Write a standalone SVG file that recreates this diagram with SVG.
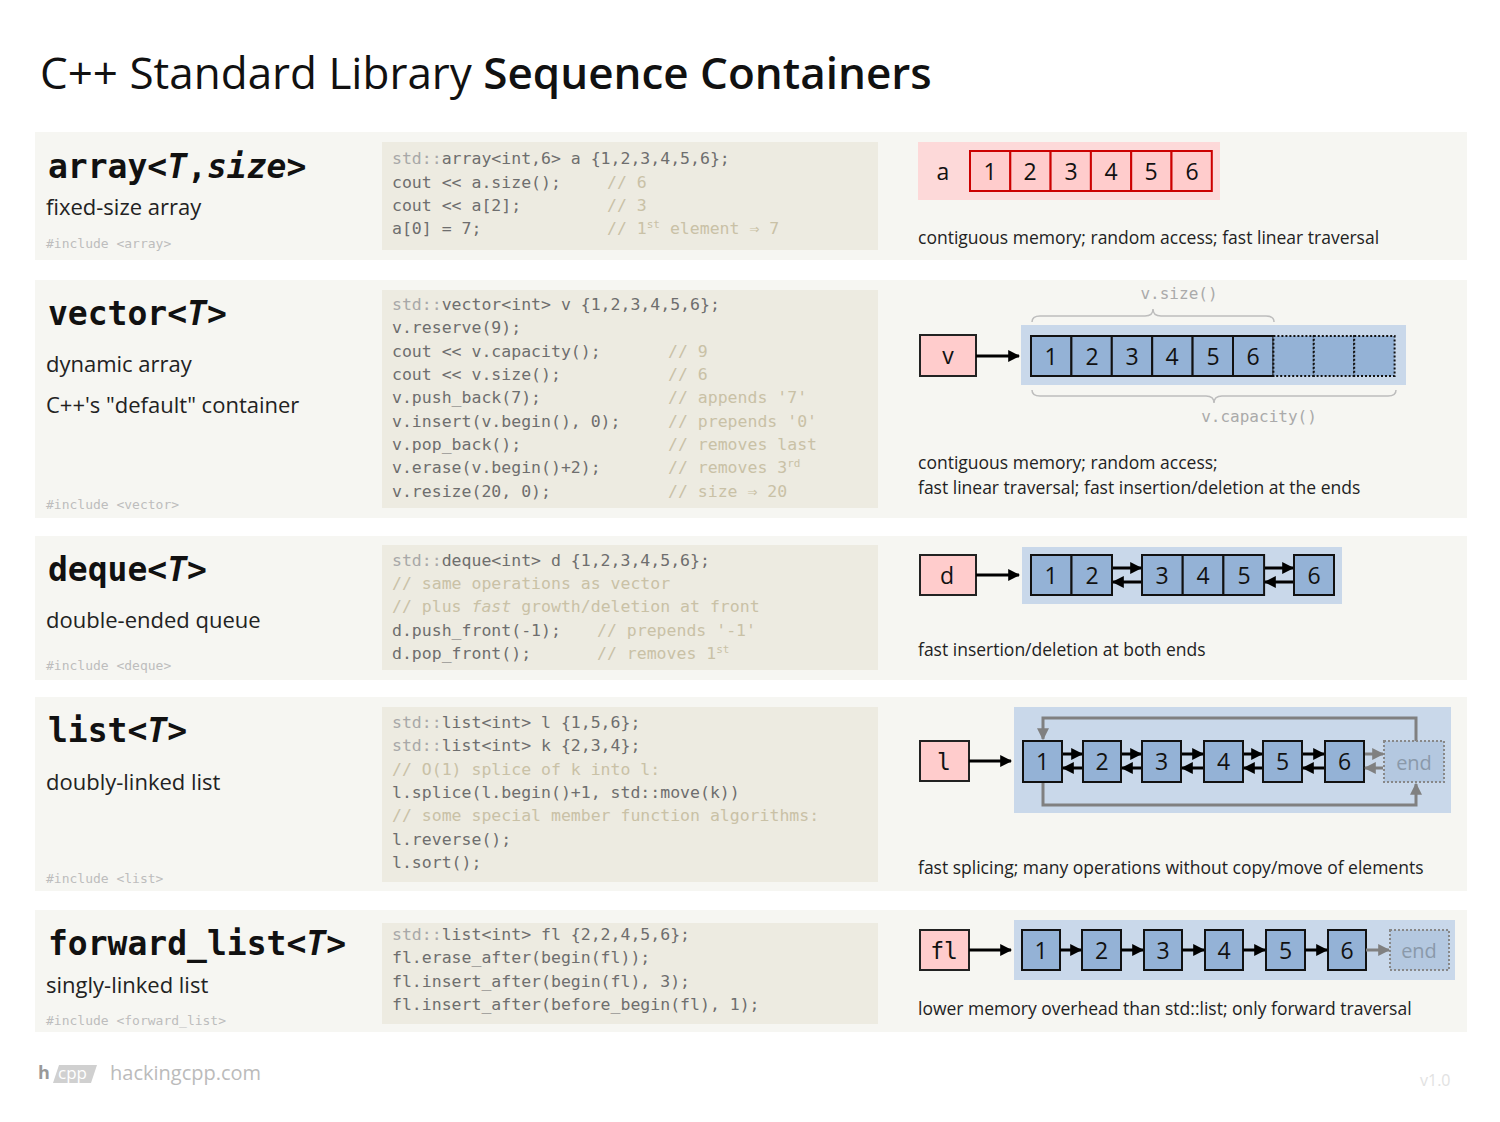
<svg xmlns="http://www.w3.org/2000/svg" width="1500" height="1122" viewBox="0 0 1500 1122">
<style>
.row{fill:#f6f6f2}
.code{fill:#edebe1}
.c{font-family:"DejaVu Sans Mono",monospace;font-size:16.5px;fill:#6e6e6e}
.s{fill:#a8a8a8}
.cm{fill:#c9c1a6}
.h{font-family:"DejaVu Sans Mono",monospace;font-size:33px;font-weight:bold;fill:#111}
.d{font-family:"Open Sans",sans-serif;font-size:22px;fill:#222}
.inc{font-family:"DejaVu Sans Mono",monospace;font-size:13px;fill:#bdbdbd}
.note{font-family:"Open Sans",sans-serif;font-size:17.5px;fill:#222}
.pk{fill:#ffcccc;stroke:#222;stroke-width:2}
.cell{fill:#94b2d6;stroke:#111;stroke-width:2}
.dot{fill:#94b2d6;stroke:#111;stroke-width:2;stroke-dasharray:2 2}
.bg{fill:#c9d8ea}
.n{font-family:"Open Sans",sans-serif;font-size:23px;fill:#111;text-anchor:middle}
.mono23{font-family:"DejaVu Sans Mono",monospace;font-size:23px;fill:#111;text-anchor:middle}
.a{stroke:#000;stroke-width:3;fill:none;marker-end:url(#ah)}
.g{stroke:#808080;stroke-width:3;fill:none;marker-end:url(#gh)}
.br{stroke:#bdbdbd;stroke-width:1.5;fill:none}
.lbl{font-family:"DejaVu Sans Mono",monospace;font-size:16px;fill:#aaa;text-anchor:middle}
.end{fill:#b4c8e0;stroke:#888;stroke-width:2;stroke-dasharray:2 2}
.endt{font-family:"Open Sans",sans-serif;font-size:20px;fill:#8a99aa;text-anchor:middle}
</style>
<defs>
<marker id="ah" viewBox="0 0 10 10" refX="9" refY="5" markerWidth="4" markerHeight="4" orient="auto"><path d="M0,0L10,5L0,10z" fill="#000"/></marker>
<marker id="gh" viewBox="0 0 10 10" refX="9" refY="5" markerWidth="4" markerHeight="4" orient="auto"><path d="M0,0L10,5L0,10z" fill="#808080"/></marker>
</defs>
<rect width="1500" height="1122" fill="#fff"/>
<text x="40" y="89" font-family="Open Sans,sans-serif" font-size="44" fill="#111">C++ Standard Library <tspan font-weight="600">Sequence Containers</tspan></text>

<g id="array">
<rect class="row" x="35" y="132" width="1432" height="128"/>
<text class="h" x="48" y="178">array&lt;<tspan font-style="italic">T</tspan>,<tspan font-style="italic">size</tspan>&gt;</text>
<text class="d" x="46" y="215">fixed-size array</text>
<text class="inc" x="46" y="248">#include &lt;array&gt;</text>
<rect class="code" x="382" y="142" width="496" height="108"/>
<text class="c" x="392" y="164"><tspan class="s">std::</tspan>array&lt;int,6&gt; a {1,2,3,4,5,6};</text>
<text class="c" x="392" y="188">cout &lt;&lt; a.size();<tspan class="cm" x="607">// 6</tspan></text>
<text class="c" x="392" y="211">cout &lt;&lt; a[2];<tspan class="cm" x="607">// 3</tspan></text>
<text class="c" x="392" y="234">a[0] = 7;<tspan class="cm" x="607">// 1<tspan font-size="11" dy="-6">st</tspan><tspan dy="6"> element ⇒ 7</tspan></tspan></text>
<rect x="918" y="142" width="302" height="58" fill="#fdd9d9"/>
<text class="n" x="943" y="180">a</text>
<g fill="#ffcccc" stroke="#c00" stroke-width="2">
<rect x="970" y="151" width="40.3" height="40"/><rect x="1010.3" y="151" width="40.3" height="40"/><rect x="1050.6" y="151" width="40.3" height="40"/><rect x="1090.9" y="151" width="40.3" height="40"/><rect x="1131.2" y="151" width="40.3" height="40"/><rect x="1171.5" y="151" width="40.3" height="40"/>
</g>
<text class="n" x="990" y="180">1</text><text class="n" x="1030" y="180">2</text><text class="n" x="1071" y="180">3</text><text class="n" x="1111" y="180">4</text><text class="n" x="1151" y="180">5</text><text class="n" x="1192" y="180">6</text>
<text class="note" x="918" y="244">contiguous memory; random access; fast linear traversal</text>
</g>

<g id="vector">
<rect class="row" x="35" y="280" width="1432" height="238"/>
<text class="h" x="48" y="325">vector&lt;<tspan font-style="italic">T</tspan>&gt;</text>
<text class="d" x="46" y="372">dynamic array</text>
<text class="d" x="46" y="413">C++'s "default" container</text>
<text class="inc" x="46" y="509">#include &lt;vector&gt;</text>
<rect class="code" x="382" y="290" width="496" height="218"/>
<text class="c" x="392" y="310"><tspan class="s">std::</tspan>vector&lt;int&gt; v {1,2,3,4,5,6};</text>
<text class="c" x="392" y="333">v.reserve(9);</text>
<text class="c" x="392" y="357">cout &lt;&lt; v.capacity();<tspan class="cm" x="668">// 9</tspan></text>
<text class="c" x="392" y="380">cout &lt;&lt; v.size();<tspan class="cm" x="668">// 6</tspan></text>
<text class="c" x="392" y="403">v.push_back(7);<tspan class="cm" x="668">// appends '7'</tspan></text>
<text class="c" x="392" y="427">v.insert(v.begin(), 0);<tspan class="cm" x="668">// prepends '0'</tspan></text>
<text class="c" x="392" y="450">v.pop_back();<tspan class="cm" x="668">// removes last</tspan></text>
<text class="c" x="392" y="473">v.erase(v.begin()+2);<tspan class="cm" x="668">// removes 3<tspan font-size="11" dy="-6">rd</tspan></tspan></text>
<text class="c" x="392" y="497">v.resize(20, 0);<tspan class="cm" x="668">// size ⇒ 20</tspan></text>
<rect class="bg" x="1021" y="325" width="385" height="60"/>
<rect class="pk" x="920" y="335" width="56" height="41"/>
<text class="n" x="948" y="364">v</text>
<path class="a" d="M976,356H1019"/>
<rect class="cell" x="1031" y="336" width="40.4" height="40"/><rect class="cell" x="1071.4" y="336" width="40.4" height="40"/><rect class="cell" x="1111.8" y="336" width="40.4" height="40"/><rect class="cell" x="1152.2" y="336" width="40.4" height="40"/><rect class="cell" x="1192.6" y="336" width="40.4" height="40"/><rect class="cell" x="1233" y="336" width="40.4" height="40"/>
<rect class="dot" x="1273.4" y="336" width="40.4" height="40"/><rect class="dot" x="1313.8" y="336" width="40.4" height="40"/><rect class="dot" x="1354.2" y="336" width="40.4" height="40"/>
<text class="n" x="1051" y="365">1</text><text class="n" x="1092" y="365">2</text><text class="n" x="1132" y="365">3</text><text class="n" x="1172" y="365">4</text><text class="n" x="1213" y="365">5</text><text class="n" x="1253" y="365">6</text>
<path class="br" d="M1032,322Q1032,316 1040,316H1145Q1153,316 1153,309Q1153,316 1161,316H1266Q1274,316 1274,322"/>
<text class="lbl" x="1179" y="299">v.size()</text>
<path class="br" d="M1032,390Q1032,396 1040,396H1206Q1214,396 1214,403Q1214,396 1222,396H1388Q1396,396 1396,390"/>
<text class="lbl" x="1259" y="422">v.capacity()</text>
<text class="note" x="918" y="469">contiguous memory; random access;</text>
<text class="note" x="918" y="494">fast linear traversal; fast insertion/deletion at the ends</text>
</g>

<g id="deque">
<rect class="row" x="35" y="536" width="1432" height="144"/>
<text class="h" x="48" y="581">deque&lt;<tspan font-style="italic">T</tspan>&gt;</text>
<text class="d" x="46" y="628">double-ended queue</text>
<text class="inc" x="46" y="670">#include &lt;deque&gt;</text>
<rect class="code" x="382" y="545" width="496" height="125"/>
<text class="c" x="392" y="566"><tspan class="s">std::</tspan>deque&lt;int&gt; d {1,2,3,4,5,6};</text>
<text class="c cm" x="392" y="589">// same operations as vector</text>
<text class="c cm" x="392" y="612">// plus <tspan font-style="italic">fast</tspan> growth/deletion at front</text>
<text class="c" x="392" y="636">d.push_front(-1);<tspan class="cm" x="597">// prepends '-1'</tspan></text>
<text class="c" x="392" y="659">d.pop_front();<tspan class="cm" x="597">// removes 1<tspan font-size="11" dy="-6">st</tspan></tspan></text>
<rect class="bg" x="1022" y="547" width="320" height="57"/>
<rect class="pk" x="920" y="555" width="56" height="40"/>
<text class="n" x="947" y="584">d</text>
<path class="a" d="M976,575H1019"/>
<rect class="cell" x="1031" y="555" width="40.5" height="40"/><rect class="cell" x="1071.5" y="555" width="40.5" height="40"/>
<rect class="cell" x="1142" y="555" width="40.7" height="40"/><rect class="cell" x="1182.7" y="555" width="40.7" height="40"/><rect class="cell" x="1223.4" y="555" width="40.7" height="40"/>
<rect class="cell" x="1294" y="555" width="40" height="40"/>
<text class="n" x="1051" y="584">1</text><text class="n" x="1092" y="584">2</text><text class="n" x="1162" y="584">3</text><text class="n" x="1203" y="584">4</text><text class="n" x="1244" y="584">5</text><text class="n" x="1314" y="584">6</text>
<path class="a" d="M1113,568H1141"/><path class="a" d="M1141,582H1113"/>
<path class="a" d="M1265,568H1293"/><path class="a" d="M1293,582H1265"/>
<text class="note" x="918" y="656">fast insertion/deletion at both ends</text>
</g>

<g id="list">
<rect class="row" x="35" y="697" width="1432" height="194"/>
<text class="h" x="48" y="742">list&lt;<tspan font-style="italic">T</tspan>&gt;</text>
<text class="d" x="46" y="790">doubly-linked list</text>
<text class="inc" x="46" y="883">#include &lt;list&gt;</text>
<rect class="code" x="382" y="707" width="496" height="175"/>
<text class="c" x="392" y="728"><tspan class="s">std::</tspan>list&lt;int&gt; l {1,5,6};</text>
<text class="c" x="392" y="751"><tspan class="s">std::</tspan>list&lt;int&gt; k {2,3,4};</text>
<text class="c cm" x="392" y="775">// O(1) splice of k into l:</text>
<text class="c" x="392" y="798">l.splice(l.begin()+1, std::move(k))</text>
<text class="c cm" x="392" y="821">// some special member function algorithms:</text>
<text class="c" x="392" y="845">l.reverse();</text>
<text class="c" x="392" y="868">l.sort();</text>
<rect class="bg" x="1014" y="707" width="437" height="106"/>
<rect class="pk" x="920" y="741" width="49" height="40"/>
<text class="mono23" x="944" y="770">l</text>
<path class="a" d="M969,761H1011"/>
<path class="g" d="M1416,741V718H1043V739"/>
<path class="g" d="M1043,782V805H1416V784"/>
<rect class="end" x="1384" y="741" width="60" height="41"/>
<text class="endt" x="1414" y="770">end</text>
<rect class="cell" x="1023" y="741" width="39" height="41"/><rect class="cell" x="1083" y="741" width="38" height="41"/><rect class="cell" x="1142" y="741" width="39" height="41"/><rect class="cell" x="1204" y="741" width="39" height="41"/><rect class="cell" x="1263" y="741" width="39" height="41"/><rect class="cell" x="1325" y="741" width="39" height="41"/>
<text class="n" x="1042.5" y="770">1</text><text class="n" x="1102" y="770">2</text><text class="n" x="1161.5" y="770">3</text><text class="n" x="1223.5" y="770">4</text><text class="n" x="1282.5" y="770">5</text><text class="n" x="1344.5" y="770">6</text>
<path class="a" d="M1063,754H1082"/><path class="a" d="M1082,768H1063"/>
<path class="a" d="M1122,754H1141"/><path class="a" d="M1141,768H1122"/>
<path class="a" d="M1182,754H1203"/><path class="a" d="M1203,768H1182"/>
<path class="a" d="M1244,754H1262"/><path class="a" d="M1262,768H1244"/>
<path class="a" d="M1303,754H1324"/><path class="a" d="M1324,768H1303"/>
<path class="g" d="M1365,754H1383"/><path class="g" d="M1383,768H1365"/>
<text class="note" x="918" y="874">fast splicing; many operations without copy/move of elements</text>
</g>

<g id="forward_list">
<rect class="row" x="35" y="910" width="1432" height="122"/>
<text class="h" x="48" y="955">forward_list&lt;<tspan font-style="italic">T</tspan>&gt;</text>
<text class="d" x="46" y="993">singly-linked list</text>
<text class="inc" x="46" y="1025">#include &lt;forward_list&gt;</text>
<rect class="code" x="382" y="923" width="496" height="101"/>
<text class="c" x="392" y="940"><tspan class="s">std::</tspan>list&lt;int&gt; fl {2,2,4,5,6};</text>
<text class="c" x="392" y="963">fl.erase_after(begin(fl));</text>
<text class="c" x="392" y="987">fl.insert_after(begin(fl), 3);</text>
<text class="c" x="392" y="1010">fl.insert_after(before_begin(fl), 1);</text>
<rect class="bg" x="1014" y="920" width="441" height="60"/>
<rect class="pk" x="920" y="930" width="49" height="40"/>
<text class="mono23" x="944" y="959">fl</text>
<path class="a" d="M969,950H1011"/>
<rect class="cell" x="1022" y="930" width="38" height="40"/><rect class="cell" x="1082" y="930" width="39" height="40"/><rect class="cell" x="1144" y="930" width="38" height="40"/><rect class="cell" x="1205" y="930" width="38" height="40"/><rect class="cell" x="1266" y="930" width="39" height="40"/><rect class="cell" x="1328" y="930" width="38" height="40"/>
<rect class="end" x="1390" y="930" width="59" height="40"/>
<text class="endt" x="1419" y="958">end</text>
<text class="n" x="1041" y="959">1</text><text class="n" x="1101.5" y="959">2</text><text class="n" x="1163" y="959">3</text><text class="n" x="1224" y="959">4</text><text class="n" x="1285.5" y="959">5</text><text class="n" x="1347" y="959">6</text>
<path class="a" d="M1060,950H1081"/><path class="a" d="M1121,950H1143"/><path class="a" d="M1182,950H1204"/><path class="a" d="M1243,950H1265"/><path class="a" d="M1305,950H1327"/>
<path class="g" d="M1366,950H1389"/>
<text class="note" x="918" y="1015">lower memory overhead than std::list; only forward traversal</text>
</g>

<g id="footer">
<text x="38" y="1079" font-family="Open Sans,sans-serif" font-size="18" font-weight="bold" fill="#999">h</text>
<path d="M53,1083L59,1065H97L91,1083z" fill="#d0d0d0"/>
<text x="58" y="1079" font-family="Open Sans,sans-serif" font-size="17" fill="#fff">cpp</text>
<text x="110" y="1080" font-family="Open Sans,sans-serif" font-size="20" fill="#bbb">hackingcpp.com</text>
<text x="1420" y="1086" font-family="Open Sans,sans-serif" font-size="16" fill="#e2e2e2">v1.0</text>
</g>
</svg>
